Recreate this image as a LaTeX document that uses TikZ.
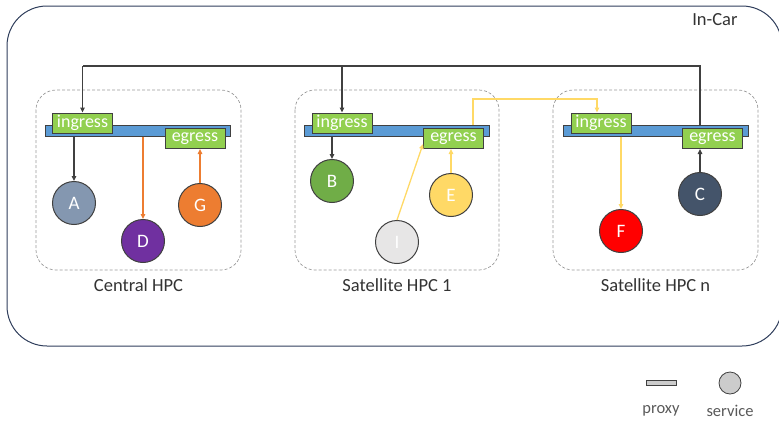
\documentclass[tikz,border=0pt]{standalone}
\usepackage{fontspec}
\setmainfont{Carlito}
\usetikzlibrary{arrows.meta,positioning}
\definecolor{carframe}{HTML}{2F3E5C}
\definecolor{barblue}{HTML}{5B9BD5}
\definecolor{portgreen}{HTML}{92D050}
\definecolor{linegray}{HTML}{404040}
\definecolor{flowyellow}{HTML}{FFD966}
\definecolor{flowcorange}{HTML}{ED7D31}
\definecolor{svcA}{HTML}{8497B0}
\definecolor{svcB}{HTML}{70AD47}
\definecolor{svcC}{HTML}{44546A}
\definecolor{svcD}{HTML}{7030A0}
\definecolor{svcE}{HTML}{FFD966}
\definecolor{svcF}{HTML}{FF0000}
\definecolor{svcG}{HTML}{ED7D31}
\definecolor{svcI}{HTML}{E7E6E6}
\tikzset{
	hpcbox/.style={draw=gray!80, densely dashed, line width=0.7pt, rounded corners=20pt},
	unitlabel/.style={text=black!80, font=\fontsize{18.5}{18.5}\selectfont},
	proxybar/.style={draw=linegray, fill=barblue, line width=1pt, minimum width=185pt, minimum height=11pt, inner sep=0pt},
	portbox/.style={draw=linegray, fill=portgreen, line width=1pt, text=white, minimum width=60pt, minimum height=20pt, inner sep=0pt, font=\fontsize{18}{18}\selectfont},
	service/.style={circle, draw=linegray, line width=1pt, minimum size=43pt, inner sep=0pt, text=white, font=\fontsize{19}{19}\selectfont},
	flow/.style={-{Triangle[length=5pt,width=4.5pt]}, line width=1.3pt, draw=linegray},
}
\newcommand{\hpcunit}[4]{
	\draw[hpcbox] (#2,90) rectangle (#3,270);
	\node[unitlabel] (#1label) at ({(#2+#3)/2},285) {#4};
}
\newcommand{\proxyset}[4]{
	\node[proxybar] (bar#1) at (#2,130.5) {};
	\node[portbox] (in#1) at (#3,123) {ingress};
	\node[portbox] (eg#1) at (#4,138.5) {egress};
}

\begin{document}
\begin{tikzpicture}[x=1pt,y=-1pt]
	\useasboundingbox (0,0) rectangle (779,421);
	\draw[carframe, line width=1pt, rounded corners=40pt] (7,6) rectangle (782,346);
	\node[unitlabel, anchor=east] (incar) at (741,20) {In-Car};

	\hpcunit{central}{36}{241}{Central HPC}
	\hpcunit{satone}{295}{499}{Satellite HPC 1}
	\hpcunit{satn}{553}{758}{Satellite HPC n}

	\proxyset{A}{138}{82.5}{195}
	\proxyset{B}{396.5}{342}{453.5}
	\proxyset{C}{655.5}{601}{712.5}

	\node[service, fill=svcA] (A) at (74,203) {A};
	\node[service, fill=svcD] (D) at (143,241) {D};
	\node[service, fill=svcG] (G) at (200,205) {G};
	\node[service, fill=svcB] (B) at (332,181) {B};
	\node[service, fill=svcE] (E) at (451,195) {E};
	\node[service, fill=svcI] (I) at (397,242) {I};
	\node[service, fill=svcF] (F) at (621,231) {F};
	\node[service, fill=svcC] (C) at (700,194) {C};

	\coordinate (topA) at (82.5,66);
	\coordinate (topB) at (342,66);
	\coordinate (topC) at (700,66);
	\coordinate (yelL) at (473,99);
	\coordinate (yelR) at (597,99);
	\coordinate (egBin) at ([yshift=5pt]egB.south west);

	\draw[flow] (C.north) -- (C.north |- egC.south);
	\draw[line width=1.3pt, linegray] (topC |- barC.north) -- (topC) -- (topA);
	\draw[flow] (topA) -- (inA.north);
	\draw[flow] (topB) -- (inB.north);

	\draw[flow] (barA.south -| A) -- (A.north);
	\draw[flow, draw=flowcorange, color=flowcorange] (barA.south -| D) -- (D.north);
	\draw[flow, draw=flowcorange, color=flowcorange] (G.north) -- (G.north |- egA.south);

	\draw[flow] (barB.south -| B) -- (B.north);
	\draw[flow, draw=flowyellow, color=flowyellow] (I.north) -- (egBin);
	\draw[flow, draw=flowyellow, color=flowyellow] (E.north) -- (E.north |- egB.south);
	\draw[flow, draw=flowyellow, color=flowyellow] (yelL |- barB.north) -- (yelL) -- (yelR) -- (yelR |- inC.north);
	\draw[flow, draw=flowyellow, color=flowyellow] (barC.south -| F) -- (F.north);

	\node[draw=linegray, fill=gray!40, line width=0.8pt, minimum width=30pt, minimum height=5pt, inner sep=0pt] (legproxy) at (661,383) {};
	\node[circle, draw=linegray, fill=gray!40, line width=0.8pt, minimum size=22pt, inner sep=0pt] (legservice) at (730,383) {};
	\node[unitlabel, text=black!65, font=\fontsize{16.5}{16.5}\selectfont] (legproxytext) at (661,411) {proxy};
	\node[unitlabel, text=black!65, font=\fontsize{16.5}{16.5}\selectfont] (legservicetext) at (730,411) {service};
\end{tikzpicture}
\end{document}
